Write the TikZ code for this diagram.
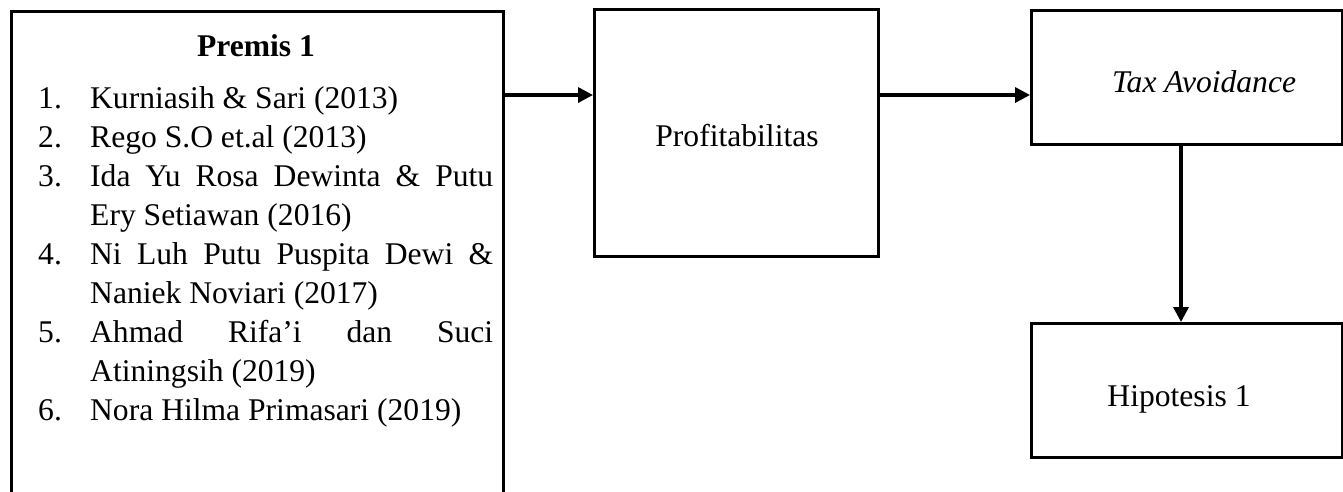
\documentclass[tikz,border=0pt]{standalone}
\usepackage{fontspec}
\setmainfont{Liberation Serif}
\usetikzlibrary{arrows.meta}
\newcommand{\litem}[1]{\hangindent=52pt\hangafter=1\noindent\makebox[52pt][l]{#1}}
\newcommand{\listsetup}{\hyphenpenalty=10000 \tolerance=9999 \parskip=0pt\relax}
\begin{document}
\begin{tikzpicture}[x=1pt,y=-1pt,
  box/.style={draw, line width=2.8pt, inner sep=0pt, anchor=north west},
  lbl/.style={inner sep=0pt, anchor=base, font=\fontsize{31.6}{39}\selectfont},
  arr/.style={line width=3.4pt, -{Triangle[length=15pt,width=15pt]}}]
\useasboundingbox (0,0) rectangle (1343,491);
\clip (0,0) rectangle (1343,491);
% boxes
\node[box, minimum width=492pt, minimum height=540pt] (premis) at (10,10) {};
\node[box, minimum width=284pt, minimum height=247pt] (prof) at (593,8) {};
\node[box, minimum width=311pt, minimum height=134pt] (tax) at (1030,9) {};
\node[box, minimum width=311pt, minimum height=134pt] (hip) at (1030,322) {};
% labels
\node[lbl, font=\fontsize{31.6}{39}\selectfont\bfseries] (ptitle) at (256,56) {Premis 1};
\node[lbl] (proflbl) at (737,146) {Profitabilitas};
\node[lbl, font=\fontsize{31.6}{39}\selectfont\itshape] (taxlbl) at (1204,92) {Tax Avoidance};
\node[lbl] (hiplbl) at (1179,406) {Hipotesis 1};
% list
\node[inner sep=0pt, anchor=base west, text width=455pt, align=justify,
      font=\fontsize{31.6}{39}\selectfont\listsetup]
      (list) at (38,108) {\litem{1.}Kurniasih \& Sari (2013)\par
  \litem{2.}Rego S.O et.al (2013)\par
  \litem{3.}Ida Yu Rosa Dewinta \& Putu\linebreak Ery Setiawan (2016)\par
  \litem{4.}Ni Luh Putu Puspita Dewi \&\linebreak Naniek Noviari (2017)\par
  \litem{5.}Ahmad Rifa’i dan Suci\linebreak Atiningsih (2019)\par
  \litem{6.}Nora Hilma Primasari (2019)};
% connectors
\coordinate (ylev) at (0,95);
\coordinate (xlev) at (1181,0);
\draw[arr] (premis.east |- ylev) -- (prof.west |- ylev);
\draw[arr] (prof.east |- ylev) -- (tax.west |- ylev);
\draw[arr] (tax.south -| xlev) -- (hip.north -| xlev);
\end{tikzpicture}
\end{document}
